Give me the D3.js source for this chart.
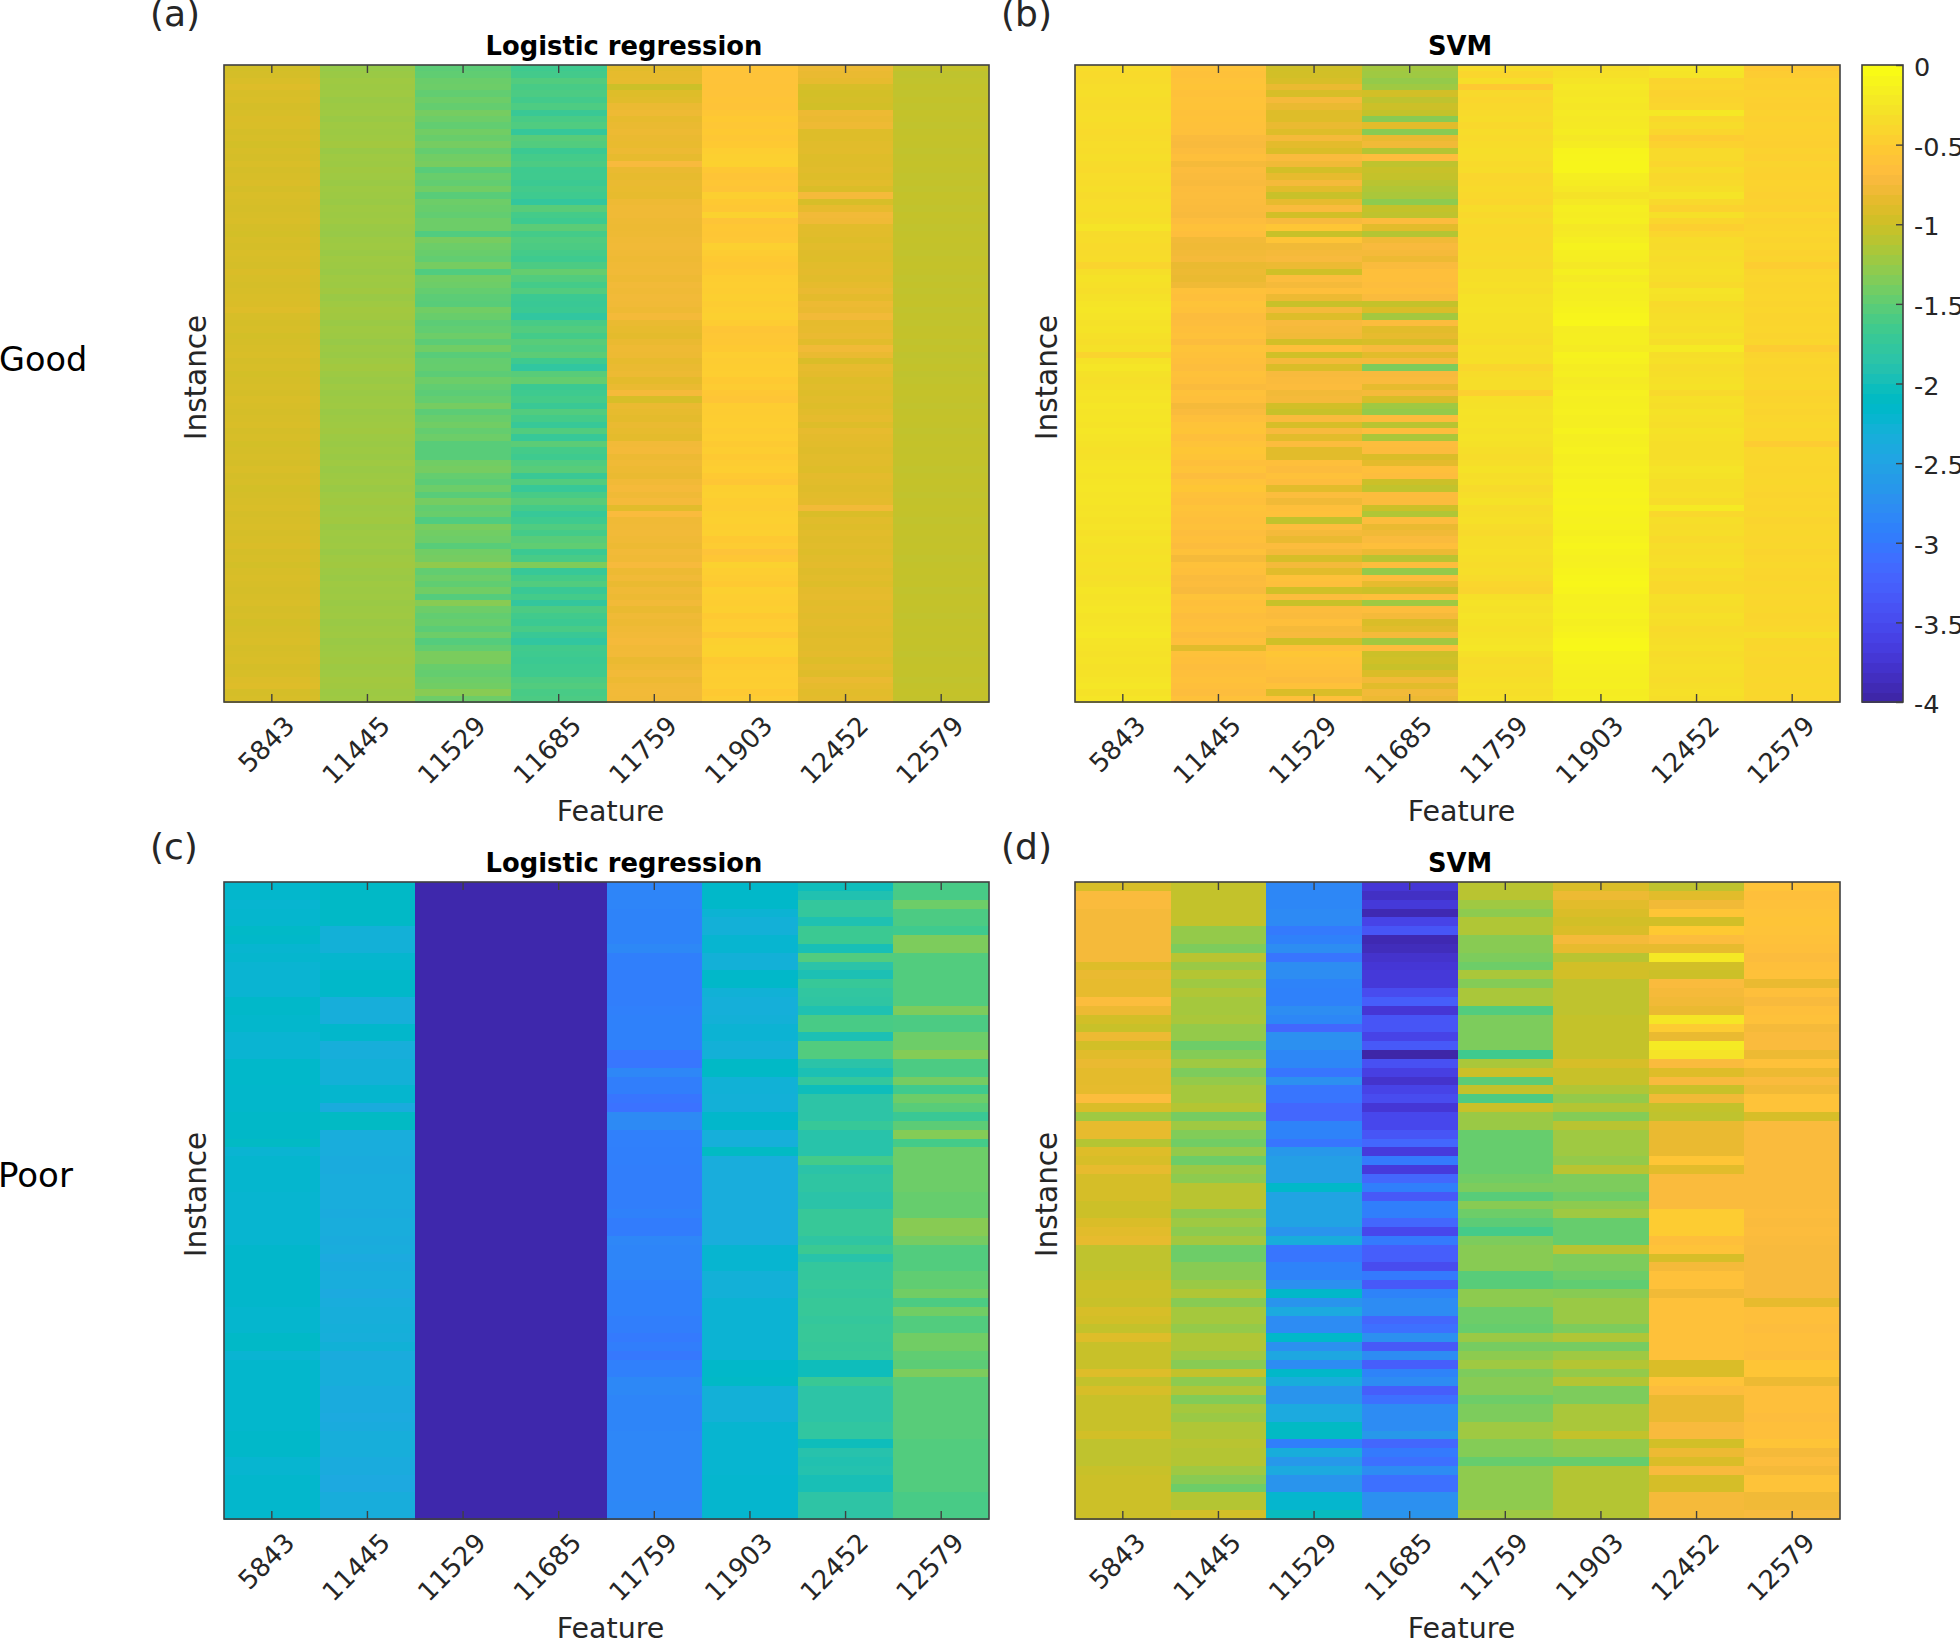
<!DOCTYPE html>
<html><head><meta charset="utf-8">
<script src="https://cdn.jsdelivr.net/npm/d3@7"></script>
<style>html,body{margin:0;padding:0;background:#fff;overflow:hidden}svg{display:block}text{font-family:"DejaVu Sans",sans-serif;fill:#262626}</style>
</head><body><svg id="c" width="1960" height="1639"></svg>
<script>
const features=["5843","11445","11529","11685","11759","11903","12452","12579"];
const colorTicks=[0,-0.5,-1,-1.5,-2,-2.5,-3,-3.5,-4];
const parula=[[.2422,.1504,.6603],[.2504,.165,.7076],[.2578,.1818,.7511],[.2647,.1978,.7952],[.2706,.2147,.8364],[.2751,.2342,.871],[.2783,.2559,.8991],[.2803,.2782,.9221],[.2813,.3006,.9414],[.281,.3228,.9579],[.2795,.3447,.9717],[.276,.3667,.9829],[.2699,.3892,.9906],[.2602,.4123,.9952],[.244,.4358,.9988],[.2206,.4603,.9973],[.1963,.4847,.9892],[.1834,.5074,.9798],[.1786,.5289,.9682],[.1764,.5499,.952],[.1687,.5703,.9359],[.154,.5902,.9218],[.146,.6091,.9079],[.138,.6276,.8973],[.1248,.6459,.8883],[.1113,.6635,.8763],[.0952,.6798,.8598],[.0689,.6948,.8394],[.0297,.7082,.8163],[.0036,.7203,.7917],[.0067,.7312,.766],[.0433,.7411,.7394],[.0964,.75,.712],[.1408,.7584,.6842],[.1717,.767,.6554],[.1938,.7758,.6251],[.2161,.7843,.5923],[.247,.7918,.5567],[.2906,.7973,.5188],[.3406,.8008,.4789],[.3909,.8029,.4354],[.4456,.8024,.3909],[.5044,.7993,.348],[.5616,.7942,.3045],[.6174,.7876,.2612],[.672,.7793,.2227],[.7242,.7698,.191],[.7738,.7598,.1646],[.8203,.7498,.1535],[.8634,.7406,.1596],[.9035,.733,.1774],[.9393,.7288,.21],[.9728,.7298,.2394],[.9956,.7434,.2371],[.997,.7659,.2199],[.9952,.7861,.199],[.9892,.8135,.1885],[.9786,.8386,.1766],[.9676,.8639,.1643],[.961,.889,.1537],[.9597,.9135,.1423],[.9628,.9373,.1265],[.9691,.9606,.1064],[.9769,.9839,.0805]];

// (a) Good, logistic regression
const goodLr1=[-.94,-.93,-.91,-.88,-.92,-.91,-.93,-.92,-.9,-.91,-.93,-.92,-.94,-.92,-.93,-.91,-.93,-.92,-.9,-.93,-.91,-.92,-.93,-.92,-.91,-.93,-.94,-.92,-.93,-.91,-.92,-.93,-.9,-.92,-.93,-.92,-.91,-.9,-.88,-.92,-.93,-.92,-.94,-.93,-.92,-.91,-.93,-.92,-.94,-.93,-.92,-.93,-.91,-.92,-.93,-.92,-.91,-.93,-.92,-.94,-.93,-.92,-.93,-.91,-.93,-.92,-.94,-.93,-.92,-.91,-.93,-.92,-.91,-.93,-.92,-.9,-.93,-.92,-.94,-.92,-.91,-.92,-.93,-.92,-.91,-.93,-.92,-.94,-.93,-.92,-.91,-.93,-.92,-.91,-.93,-.92,-.89,-.88,-.93,-.92];
const goodLr2=[-1.24,-1.22,-1.2,-1.21,-1.2,-1.22,-1.21,-1.2,-1.22,-1.2,-1.21,-1.2,-1.18,-1.22,-1.2,-1.21,-1.19,-1.2,-1.22,-1.2,-1.21,-1.22,-1.2,-1.21,-1.2,-1.22,-1.23,-1.21,-1.2,-1.22,-1.2,-1.21,-1.22,-1.2,-1.21,-1.19,-1.22,-1.2,-1.18,-1.19,-1.22,-1.2,-1.21,-1.23,-1.21,-1.22,-1.2,-1.18,-1.21,-1.22,-1.2,-1.22,-1.21,-1.2,-1.22,-1.21,-1.2,-1.19,-1.21,-1.22,-1.21,-1.22,-1.2,-1.22,-1.21,-1.2,-1.22,-1.2,-1.19,-1.21,-1.2,-1.19,-1.22,-1.2,-1.21,-1.2,-1.22,-1.2,-1.19,-1.21,-1.22,-1.2,-1.21,-1.2,-1.22,-1.21,-1.2,-1.22,-1.21,-1.2,-1.22,-1.21,-1.2,-1.19,-1.21,-1.2,-1.18,-1.19,-1.21,-1.2];
const goodLr3=[-1.5,-1.48,-1.43,-1.42,-1.47,-1.42,-1.46,-1.38,-1.42,-1.47,-1.4,-1.44,-1.38,-1.46,-1.4,-1.37,-1.52,-1.44,-1.47,-1.4,-1.52,-1.42,-1.44,-1.47,-1.42,-1.42,-1.56,-1.37,-1.42,-1.44,-1.47,-1.38,-1.56,-1.4,-1.42,-1.46,-1.5,-1.52,-1.4,-1.44,-1.5,-1.47,-1.42,-1.5,-1.4,-1.52,-1.46,-1.45,-1.5,-1.42,-1.47,-1.5,-1.46,-1.38,-1.5,-1.44,-1.4,-1.46,-1.42,-1.52,-1.52,-1.52,-1.4,-1.38,-1.46,-1.5,-1.42,-1.52,-1.38,-1.47,-1.44,-1.56,-1.36,-1.4,-1.42,-1.52,-1.4,-1.38,-1.26,-1.47,-1.42,-1.48,-1.4,-1.54,-1.3,-1.42,-1.47,-1.44,-1.5,-1.42,-1.54,-1.47,-1.36,-1.36,-1.44,-1.46,-1.42,-1.4,-1.3,-1.42];
const goodLr4=[-1.66,-1.63,-1.55,-1.6,-1.58,-1.63,-1.57,-1.7,-1.6,-1.56,-1.74,-1.52,-1.55,-1.68,-1.62,-1.58,-1.66,-1.65,-1.68,-1.63,-1.66,-1.76,-1.52,-1.62,-1.66,-1.5,-1.62,-1.56,-1.58,-1.62,-1.66,-1.58,-1.46,-1.55,-1.62,-1.55,-1.68,-1.7,-1.68,-1.78,-1.6,-1.55,-1.62,-1.52,-1.56,-1.5,-1.66,-1.78,-1.52,-1.46,-1.68,-1.66,-1.62,-1.7,-1.55,-1.62,-1.72,-1.55,-1.72,-1.5,-1.62,-1.66,-1.56,-1.52,-1.7,-1.55,-1.72,-1.6,-1.52,-1.62,-1.72,-1.66,-1.56,-1.62,-1.52,-1.48,-1.68,-1.6,-1.34,-1.72,-1.62,-1.55,-1.7,-1.62,-1.76,-1.58,-1.64,-1.68,-1.6,-1.7,-1.78,-1.64,-1.66,-1.68,-1.66,-1.65,-1.58,-1.55,-1.6,-1.58];
const goodLr5=[-.85,-.83,-.82,-.98,-.88,-.86,-.79,-.77,-.82,-.8,-.78,-.8,-.81,-.78,-.82,-.7,-.8,-.82,-.8,-.81,-.82,-.77,-.76,-.76,-.77,-.78,-.77,-.76,-.75,-.76,-.77,-.76,-.75,-.77,-.74,-.76,-.74,-.75,-.77,-.73,-.8,-.82,-.84,-.8,-.77,-.78,-.82,-.8,-.78,-.84,-.8,-.72,-.92,-.8,-.82,-.84,-.8,-.82,-.84,-.74,-.73,-.78,-.76,-.78,-.8,-.75,-.72,-.76,-.72,-.85,-.68,-.76,-.75,-.74,-.76,-.78,-.74,-.76,-.71,-.78,-.75,-.8,-.76,-.78,-.74,-.8,-.76,-.78,-.76,-.74,-.72,-.75,-.74,-.8,-.77,-.74,-.78,-.75,-.74,-.75];
const goodLr6=[-.56,-.58,-.58,-.57,-.58,-.56,-.57,-.54,-.5,-.53,-.5,-.52,-.5,-.46,-.44,-.43,-.52,-.56,-.54,-.56,-.45,-.5,-.52,-.42,-.56,-.52,-.54,-.53,-.44,-.48,-.5,-.52,-.5,-.47,-.46,-.47,-.45,-.48,-.46,-.44,-.48,-.55,-.53,-.52,-.5,-.46,-.48,-.47,-.46,-.5,-.48,-.52,-.55,-.47,-.48,-.47,-.46,-.48,-.46,-.49,-.47,-.5,-.48,-.46,-.5,-.54,-.45,-.44,-.47,-.48,-.45,-.44,-.46,-.44,-.5,-.48,-.58,-.54,-.42,-.46,-.48,-.5,-.44,-.46,-.47,-.45,-.5,-.47,-.46,-.52,-.44,-.42,-.43,-.5,-.48,-.46,-.47,-.46,-.5,-.48];
const goodLr7=[-.78,-.8,-.82,-.92,-.94,-.93,-.95,-.78,-.8,-.77,-.88,-.88,-.86,-.85,-.88,-.87,-.86,-.88,-.85,-.9,-.72,-.92,-.82,-.74,-.76,-.85,-.86,-.88,-.85,-.87,-.88,-.85,-.84,-.86,-.83,-.8,-.84,-.78,-.8,-.74,-.83,-.82,-.8,-.85,-.75,-.8,-.9,-.82,-.84,-.88,-.86,-.88,-.86,-.88,-.85,-.83,-.88,-.82,-.84,-.85,-.87,-.85,-.86,-.88,-.84,-.85,-.87,-.85,-.84,-.74,-.9,-.86,-.88,-.85,-.87,-.86,-.88,-.86,-.84,-.87,-.85,-.88,-.84,-.83,-.85,-.84,-.86,-.84,-.86,-.87,-.85,-.86,-.84,-.88,-.84,-.87,-.8,-.83,-.85,-.84];
const goodLr8=[-1.02,-1.05,-1.04,-1.03,-1.04,-1.03,-1.04,-1.02,-1.03,-1.04,-1.03,-1.02,-1.03,-1.04,-1.03,-1.02,-1.03,-1.04,-1.03,-1.04,-1.02,-1.03,-1.04,-1.02,-1.03,-1.04,-1.03,-1.02,-1.03,-1.04,-1.03,-1.02,-1.03,-1.04,-1.03,-1.04,-1.03,-1.02,-1.04,-1.03,-1.04,-1.03,-1.02,-1.04,-1.03,-1.05,-1.04,-1.03,-1.05,-1.04,-1.03,-1.02,-1.03,-1.04,-1.03,-1.02,-1.03,-1.04,-1.03,-1.02,-1.03,-1.02,-1.03,-1.04,-1.03,-1.02,-1.03,-1.04,-1.03,-1.02,-1.03,-1.04,-1.03,-1.02,-1.03,-1.02,-1.03,-1.04,-1.03,-1.02,-1.03,-1.02,-1.04,-1.03,-1.02,-1.03,-1.04,-1.03,-1.02,-1.03,-1.02,-1.03,-1.04,-1.03,-1.02,-1.03,-1.04,-1.03,-1.02,-1.03];

// (b) Good, SVM
const goodSvm1=[-.32,-.34,-.33,-.31,-.3,-.32,-.33,-.31,-.3,-.32,-.34,-.33,-.31,-.32,-.3,-.33,-.34,-.31,-.32,-.3,-.33,-.31,-.3,-.32,-.3,-.24,-.33,-.32,-.34,-.33,-.32,-.4,-.3,-.26,-.28,-.3,-.27,-.24,-.22,-.24,-.27,-.25,-.28,-.3,-.27,-.4,-.26,-.22,-.27,-.29,-.27,-.24,-.25,-.22,-.24,-.23,-.25,-.22,-.24,-.26,-.28,-.27,-.24,-.23,-.25,-.23,-.22,-.24,-.23,-.25,-.24,-.26,-.24,-.28,-.25,-.27,-.28,-.26,-.28,-.27,-.29,-.27,-.23,-.25,-.24,-.22,-.25,-.24,-.22,-.2,-.24,-.25,-.27,-.25,-.27,-.26,-.24,-.22,-.26,-.23];
const goodSvm2=[-.58,-.6,-.58,-.56,-.6,-.58,-.57,-.6,-.59,-.6,-.61,-.68,-.7,-.66,-.62,-.72,-.66,-.68,-.7,-.66,-.65,-.67,-.68,-.7,-.64,-.6,-.63,-.74,-.76,-.74,-.72,-.8,-.78,-.8,-.76,-.6,-.62,-.58,-.6,-.66,-.64,-.62,-.6,-.66,-.58,-.6,-.62,-.64,-.6,-.62,-.68,-.6,-.62,-.72,-.68,-.62,-.58,-.56,-.62,-.58,-.54,-.56,-.62,-.58,-.64,-.58,-.54,-.6,-.62,-.58,-.6,-.62,-.6,-.64,-.62,-.66,-.6,-.72,-.6,-.62,-.68,-.66,-.7,-.58,-.62,-.6,-.64,-.62,-.6,-.66,-.62,-.86,-.6,-.62,-.64,-.62,-.6,-.62,-.64,-.6];
const goodSvm3=[-.96,-.95,-.92,-.8,-.92,-.72,-.8,-.88,-.88,-.8,-.88,-.72,-.84,-.9,-.68,-.75,-.94,-.82,-.72,-.85,-1.0,-.82,-.68,-.95,-.7,-.54,-1.0,-.56,-.75,-.72,-.7,-.78,-.96,-.65,-.72,-.62,-.78,-1.0,-.72,-.88,-.7,-.72,-.74,-.94,-.62,-.96,-.72,-.9,-.7,-.68,-.66,-.74,-.72,-.95,-1.0,-.68,-.92,-.7,-.85,-.66,-.85,-.85,-.62,-.66,-.6,-.64,-.85,-.65,-.75,-.62,-.6,-1.04,-.64,-.72,-.8,-.66,-.72,-.92,-.72,-.85,-.6,-.62,-.96,-.65,-1.0,-.66,-.68,-.62,-.72,-.7,-.96,-.62,-.54,-.58,-.6,-.62,-.66,-.6,-.9,-.62];
const goodSvm4=[-1.18,-1.2,-1.25,-1.2,-.95,-1.05,-.98,-1.02,-1.3,-.85,-1.3,-.8,-.75,-1.1,-.64,-1.05,-1.0,-1.02,-1.08,-1.12,-1.15,-1.28,-1.02,-1.05,-.66,-.85,-1.1,-.75,-.7,-.72,-.78,-.68,-.62,-.62,-.64,-.62,-.68,-1.02,-.9,-1.18,-.66,-.85,-.82,-.92,-.7,-.85,-.72,-1.35,-.7,-.68,-.82,-.72,-.92,-1.2,-1.25,-.66,-1.08,-.64,-1.15,-.64,-.66,-.9,-.84,-.62,-.64,-.98,-1.04,-.66,-.67,-.98,-1.12,-.65,-.8,-.75,-.68,-.62,-.78,-1.08,-.64,-1.25,-.64,-.82,-.98,-.62,-1.2,-.64,-.72,-.9,-.85,-.72,-1.18,-.64,-.98,-.96,-1.0,-.9,-.74,-.85,-.74,-.78];
const goodSvm5=[-.32,-.38,-.3,-.5,-.35,-.38,-.36,-.34,-.32,-.36,-.32,-.34,-.32,-.3,-.31,-.34,-.32,-.38,-.36,-.34,-.36,-.38,-.32,-.36,-.33,-.36,-.36,-.35,-.36,-.34,-.33,-.35,-.3,-.3,-.28,-.3,-.26,-.26,-.25,-.27,-.28,-.28,-.3,-.32,-.28,-.29,-.28,-.38,-.32,-.3,-.3,-.44,-.28,-.27,-.25,-.26,-.25,-.27,-.25,-.27,-.3,-.32,-.3,-.26,-.3,-.28,-.33,-.3,-.26,-.32,-.3,-.28,-.32,-.34,-.3,-.3,-.28,-.3,-.32,-.3,-.33,-.38,-.4,-.28,-.25,-.27,-.24,-.26,-.28,-.26,-.24,-.22,-.28,-.32,-.3,-.32,-.3,-.28,-.3,-.28];
const goodSvm6=[-.3,-.28,-.24,-.2,-.22,-.2,-.22,-.18,-.2,-.19,-.16,-.2,-.16,-.08,-.07,-.06,-.06,-.14,-.16,-.2,-.26,-.2,-.14,-.16,-.14,-.2,-.18,-.14,-.1,-.14,-.15,-.2,-.13,-.18,-.13,-.15,-.14,-.12,-.09,-.07,-.05,-.15,-.14,-.14,-.17,-.1,-.12,-.16,-.14,-.18,-.16,-.12,-.14,-.13,-.12,-.14,-.14,-.1,-.14,-.13,-.11,-.14,-.13,-.11,-.13,-.1,-.09,-.08,-.1,-.08,-.09,-.11,-.09,-.13,-.1,-.07,-.1,-.12,-.11,-.08,-.06,-.05,-.07,-.12,-.11,-.12,-.1,-.13,-.11,-.08,-.05,-.04,-.1,-.1,-.12,-.13,-.14,-.13,-.16,-.15];
const goodSvm7=[-.22,-.24,-.4,-.38,-.42,-.4,-.38,-.2,-.36,-.32,-.38,-.48,-.42,-.34,-.34,-.38,-.32,-.36,-.34,-.3,-.24,-.35,-.42,-.28,-.38,-.45,-.38,-.32,-.33,-.3,-.32,-.3,-.28,-.3,-.34,-.24,-.26,-.34,-.32,-.3,-.28,-.3,-.26,-.3,-.18,-.3,-.28,-.32,-.3,-.28,-.26,-.35,-.28,-.3,-.26,-.28,-.3,-.26,-.28,-.3,-.3,-.3,-.28,-.24,-.26,-.3,-.3,-.28,-.32,-.18,-.36,-.3,-.32,-.3,-.34,-.3,-.32,-.3,-.28,-.34,-.32,-.36,-.36,-.28,-.3,-.32,-.28,-.3,-.34,-.32,-.3,-.28,-.32,-.3,-.28,-.3,-.32,-.3,-.28,-.3];
const goodSvm8=[-.5,-.48,-.44,-.45,-.42,-.44,-.45,-.42,-.44,-.42,-.43,-.44,-.45,-.42,-.44,-.4,-.42,-.43,-.41,-.42,-.44,-.42,-.44,-.38,-.42,-.4,-.38,-.4,-.38,-.42,-.4,-.47,-.4,-.38,-.4,-.39,-.38,-.4,-.38,-.4,-.39,-.38,-.4,-.38,-.48,-.4,-.38,-.4,-.39,-.38,-.37,-.42,-.4,-.38,-.4,-.38,-.36,-.38,-.38,-.48,-.38,-.37,-.38,-.39,-.38,-.37,-.38,-.4,-.38,-.39,-.37,-.4,-.38,-.37,-.38,-.37,-.4,-.38,-.36,-.38,-.39,-.37,-.38,-.36,-.38,-.37,-.39,-.38,-.36,-.3,-.37,-.38,-.36,-.38,-.37,-.38,-.37,-.38,-.37,-.38];

// (c) Poor, logistic regression
const poorLr1=[-2.18,-2.18,-2.22,-2.2,-2.2,-2.13,-2.15,-2.22,-2.2,-2.24,-2.24,-2.24,-2.24,-2.15,-2.15,-2.18,-2.18,-2.24,-2.24,-2.24,-2.16,-2.16,-2.16,-2.17,-2.17,-2.17,-2.14,-2.14,-2.14,-2.1,-2.24,-2.2,-2.2,-2.2,-2.2,-2.22,-2.22,-2.22,-2.22,-2.22,-2.22,-2.17,-2.17,-2.17,-2.17,-2.17,-2.17,-2.17,-2.2,-2.2,-2.2,-2.13,-2.13,-2.24,-2.18,-2.18,-2.18,-2.18,-2.18,-2.18,-2.18,-2.18,-2.15,-2.15,-2.15,-2.22,-2.22,-2.18,-2.18,-2.18,-2.18,-2.18];
const poorLr2=[-2.12,-2.12,-2.12,-2.12,-2.12,-2.3,-2.3,-2.3,-2.2,-2.2,-2.15,-2.15,-2.15,-2.34,-2.34,-2.34,-2.17,-2.17,-2.34,-2.34,-2.3,-2.3,-2.3,-2.2,-2.2,-2.38,-2.1,-2.1,-2.36,-2.36,-2.36,-2.38,-2.38,-2.36,-2.36,-2.36,-2.36,-2.38,-2.36,-2.36,-2.38,-2.36,-2.4,-2.38,-2.36,-2.36,-2.4,-2.36,-2.34,-2.34,-2.32,-2.34,-2.28,-2.38,-2.34,-2.34,-2.34,-2.38,-2.38,-2.38,-2.4,-2.38,-2.34,-2.34,-2.34,-2.38,-2.38,-2.42,-2.42,-2.35,-2.35,-2.35];
const poorLr3=[-3.98,-3.98,-3.98,-3.98,-3.98,-3.98,-3.98,-3.98,-3.98,-3.98,-3.98,-3.98,-3.98,-3.98,-3.98,-3.98,-3.98,-3.98,-3.98,-3.98,-3.98,-3.98,-3.98,-3.98,-3.98,-3.98,-3.98,-3.98,-3.98,-3.98,-3.98,-3.98,-3.98,-3.98,-3.98,-3.98,-3.98,-3.98,-3.98,-3.98,-3.98,-3.98,-3.98,-3.98,-3.98,-3.98,-3.98,-3.98,-3.98,-3.98,-3.98,-3.98,-3.98,-3.98,-3.98,-3.98,-3.98,-3.98,-3.98,-3.98,-3.98,-3.98,-3.98,-3.98,-3.98,-3.98,-3.98,-3.98,-3.98,-3.98,-3.98,-3.98];
const poorLr4=[-3.98,-3.98,-3.98,-3.98,-3.98,-3.98,-3.98,-3.98,-3.98,-3.98,-3.98,-3.98,-3.98,-3.98,-3.98,-3.98,-3.98,-3.98,-3.98,-3.98,-3.98,-3.98,-3.98,-3.98,-3.98,-3.98,-3.98,-3.98,-3.98,-3.98,-3.98,-3.98,-3.98,-3.98,-3.98,-3.98,-3.98,-3.98,-3.98,-3.98,-3.98,-3.98,-3.98,-3.98,-3.98,-3.98,-3.98,-3.98,-3.98,-3.98,-3.98,-3.98,-3.98,-3.98,-3.98,-3.98,-3.98,-3.98,-3.98,-3.98,-3.98,-3.98,-3.98,-3.98,-3.98,-3.98,-3.98,-3.98,-3.98,-3.98,-3.98,-3.98];
const poorLr5=[-2.88,-2.88,-2.88,-2.9,-2.9,-2.9,-2.9,-2.84,-2.95,-2.95,-2.96,-2.96,-2.96,-2.96,-2.94,-2.92,-2.92,-2.92,-2.92,-3.04,-3.04,-2.86,-2.96,-2.96,-3.05,-3.08,-2.82,-2.82,-2.94,-2.94,-2.95,-2.95,-2.96,-2.96,-2.96,-2.96,-2.96,-2.92,-2.98,-2.98,-2.86,-2.88,-2.88,-2.88,-2.88,-2.92,-2.92,-2.92,-2.92,-2.96,-2.96,-3,-2.96,-3.02,-2.94,-2.94,-2.84,-2.84,-2.88,-2.88,-2.88,-2.88,-2.86,-2.86,-2.86,-2.86,-2.86,-2.86,-2.86,-2.86,-2.84,-2.84];
const poorLr6=[-2.15,-2.15,-2.15,-2.25,-2.3,-2.3,-2.22,-2.22,-2.3,-2.3,-2.15,-2.15,-2.28,-2.32,-2.32,-2.3,-2.25,-2.25,-2.3,-2.3,-2.12,-2.12,-2.28,-2.28,-2.3,-2.3,-2.17,-2.17,-2.33,-2.33,-2.1,-2.36,-2.36,-2.36,-2.36,-2.36,-2.36,-2.36,-2.36,-2.36,-2.36,-2.22,-2.22,-2.22,-2.3,-2.3,-2.3,-2.25,-2.25,-2.25,-2.25,-2.25,-2.25,-2.25,-2.15,-2.15,-2.12,-2.3,-2.3,-2.3,-2.3,-2.22,-2.22,-2.22,-2.22,-2.22,-2.22,-2.2,-2.2,-2.2,-2.2,-2.2];
const poorLr7=[-2.02,-1.92,-1.75,-1.75,-1.93,-1.68,-1.68,-1.97,-1.55,-1.85,-1.95,-1.72,-1.78,-1.8,-1.93,-1.6,-1.6,-1.95,-1.55,-1.55,-1.85,-1.95,-1.75,-2.02,-1.83,-1.83,-1.83,-1.72,-1.87,-1.87,-1.87,-1.62,-1.85,-1.8,-1.8,-1.85,-1.85,-1.72,-1.72,-1.72,-1.8,-1.68,-1.87,-1.75,-1.75,-1.72,-1.75,-1.72,-1.72,-1.75,-1.72,-1.72,-1.74,-1.72,-2.02,-2.02,-1.7,-1.83,-1.83,-1.83,-1.83,-1.78,-1.78,-2.02,-1.88,-1.92,-1.9,-1.97,-1.97,-1.82,-1.82,-1.82];
const poorLr8=[-1.6,-1.6,-1.42,-1.58,-1.58,-1.65,-1.35,-1.35,-1.55,-1.55,-1.55,-1.55,-1.55,-1.55,-1.35,-1.58,-1.58,-1.42,-1.42,-1.32,-1.58,-1.58,-1.38,-1.65,-1.42,-1.52,-1.7,-1.5,-1.32,-1.62,-1.42,-1.42,-1.42,-1.42,-1.42,-1.45,-1.45,-1.45,-1.3,-1.3,-1.38,-1.55,-1.55,-1.55,-1.48,-1.48,-1.4,-1.58,-1.4,-1.55,-1.55,-1.4,-1.4,-1.48,-1.5,-1.35,-1.52,-1.52,-1.52,-1.52,-1.52,-1.52,-1.52,-1.55,-1.55,-1.55,-1.55,-1.55,-1.55,-1.6,-1.6,-1.6];

// (d) Poor, SVM
const poorSvm1=[-.92,-.68,-.68,-.72,-.72,-.72,-.72,-.72,-.72,-.88,-.8,-.82,-.82,-.65,-.78,-.95,-1.0,-.78,-.95,-.86,-.8,-.84,-.84,-.83,-.65,-.9,-1.2,-.82,-.82,-1.1,-.88,-.92,-.82,-.93,-.93,-.93,-.98,-.98,-.9,-.85,-.82,-1.05,-1.05,-1.05,-1.03,-.98,-.98,-1.0,-.92,-.95,-1.03,-.88,-1.0,-1.0,-1.0,-.88,-1.03,-.92,-1.0,-1.0,-1.0,-1.0,-.95,-1.05,-1.05,-1.05,-1.0,-.98,-.98,-.98,-.98,-.98];
const poorSvm2=[-1.03,-1.03,-1.03,-1.03,-1.03,-1.25,-1.25,-1.35,-1.08,-1.22,-1.1,-1.2,-1.12,-1.17,-1.17,-1.15,-1.25,-1.25,-1.42,-1.32,-1.2,-1.35,-1.25,-1.17,-1.17,-1.1,-1.38,-1.2,-1.33,-1.4,-1.25,-1.42,-1.22,-1.28,-1.08,-1.08,-1.08,-1.28,-1.2,-1.28,-1.18,-1.42,-1.42,-1.3,-1.3,-1.22,-1.12,-1.3,-1.17,-1.17,-1.25,-1.12,-1.12,-1.2,-1.3,-1.03,-1.28,-1.12,-1.33,-1.17,-1.22,-1.12,-1.12,-1.08,-1.1,-1.1,-1.2,-1.3,-1.42,-1.1,-1.1,-.95];
const poorSvm3=[-2.85,-2.85,-2.85,-2.82,-2.82,-3,-2.92,-2.78,-3.05,-2.78,-2.78,-2.9,-2.92,-2.92,-2.78,-2.85,-3.2,-2.75,-2.75,-2.85,-2.85,-3.05,-2.75,-3.05,-3.05,-3.2,-3.2,-2.9,-2.9,-3.05,-2.65,-2.55,-2.55,-2.55,-2.15,-2.5,-2.5,-2.5,-2.5,-2.7,-2.35,-3.05,-3.05,-2.9,-2.9,-2.75,-2.15,-2.7,-2.4,-2.8,-2.8,-2.15,-2.75,-2.45,-2.8,-2.15,-2.35,-2.7,-2.7,-2.4,-2.4,-2.1,-2.1,-2.95,-2.35,-2.65,-2.4,-2.7,-2.7,-2.2,-2.2,-2.05];
const poorSvm4=[-3.75,-3.85,-3.72,-3.95,-3.6,-3.4,-3.95,-3.9,-3.8,-3.75,-3.72,-3.72,-3.5,-3.3,-3.75,-3.4,-3.4,-3.6,-3.35,-4,-3.45,-3.65,-3.8,-3.6,-3.5,-3.75,-3.55,-3.55,-3.4,-3.2,-3.7,-3,-3.7,-3.2,-2.95,-3.35,-2.95,-2.95,-3.2,-3.55,-3,-3.3,-3.3,-3.5,-3,-3.35,-2.9,-2.8,-2.8,-3.2,-3.1,-2.75,-3.35,-2.8,-3.3,-2.9,-2.8,-3.3,-3.1,-2.8,-2.8,-2.8,-2.65,-3.2,-3,-3.1,-2.8,-3.1,-3.1,-2.75,-2.75,-2.7];
const poorSvm5=[-1.08,-1.08,-1.2,-1.28,-1.12,-1.12,-1.3,-1.3,-1.35,-1.42,-1.15,-1.32,-1.15,-1.15,-1.55,-1.35,-1.35,-1.35,-1.35,-1.65,-1.15,-.98,-1.5,-1.03,-1.58,-1,-1.22,-1.22,-1.45,-1.45,-1.45,-1.45,-1.45,-1.4,-1.35,-1.52,-1.3,-1.42,-1.5,-1.62,-1.35,-1.3,-1.3,-1.3,-1.52,-1.52,-1.28,-1.28,-1.42,-1.42,-1.45,-1.22,-1.38,-1.28,-1.2,-1.35,-1.3,-1.3,-1.42,-1.35,-1.35,-1.2,-1.2,-1.32,-1.32,-1.45,-1.27,-1.27,-1.27,-1.27,-1.27,-1.2];
const poorSvm6=[-.9,-.78,-.85,-.9,-.95,-.9,-.72,-.82,-1.08,-.95,-.95,-1.05,-1.05,-1.05,-1.05,-1.02,-1.02,-1.02,-1.02,-1.02,-.92,-1,-1,-1.12,-1.25,-1.1,-1.32,-1.08,-1.2,-1.2,-1.2,-1.25,-1.08,-1.35,-1.35,-1.42,-1.28,-1.2,-1.45,-1.45,-1.45,-1.08,-1.35,-1.35,-1.42,-1.48,-1.3,-1.22,-1.22,-1.22,-1.35,-1.12,-1.38,-1.2,-1.1,-1.25,-1.1,-1.35,-1.35,-1.15,-1.15,-1.15,-1.03,-1.25,-1.25,-1.45,-1.1,-1.1,-1.1,-1.1,-1.1,-1.1];
const poorSvm7=[-1.05,-.85,-.75,-.55,-.95,-.5,-.65,-.82,-.2,-.95,-.98,-.68,-.72,-.75,-.8,-.22,-.48,-.8,-.18,-.25,-.68,-.88,-.7,-1,-.75,-1.03,-1.05,-.8,-.8,-.8,-.8,-.55,-.85,-.68,-.68,-.68,-.68,-.48,-.48,-.48,-.62,-.58,-.92,-.72,-.6,-.6,-.75,-.6,-.6,-.6,-.6,-.6,-.6,-.6,-.9,-.9,-.58,-.65,-.8,-.8,-.8,-.7,-.7,-.95,-.78,-.9,-.7,-.93,-.93,-.72,-.72,-.72];
const poorSvm8=[-.58,-.62,-.6,-.58,-.56,-.58,-.6,-.62,-.66,-.62,-.6,-.8,-.62,-.7,-.62,-.6,-.72,-.68,-.68,-.78,-.6,-.78,-.68,-.75,-.58,-.58,-.92,-.68,-.68,-.68,-.68,-.68,-.68,-.68,-.68,-.68,-.68,-.66,-.68,-.66,-.68,-.7,-.7,-.7,-.7,-.7,-.7,-.82,-.62,-.62,-.64,-.62,-.62,-.64,-.55,-.55,-.78,-.62,-.62,-.62,-.64,-.62,-.62,-.56,-.72,-.65,-.72,-.58,-.58,-.75,-.75,-.7];

const parts=[
 {letter:"(a)",title:"Logistic regression",cols:[goodLr1,goodLr2,goodLr3,goodLr4,goodLr5,goodLr6,goodLr7,goodLr8],x0:224,y0:65,tcx:624,lx:150,ly:26},
 {letter:"(b)",title:"SVM",cols:[goodSvm1,goodSvm2,goodSvm3,goodSvm4,goodSvm5,goodSvm6,goodSvm7,goodSvm8],x0:1075,y0:65,tcx:1460,lx:1001,ly:26},
 {letter:"(c)",title:"Logistic regression",cols:[poorLr1,poorLr2,poorLr3,poorLr4,poorLr5,poorLr6,poorLr7,poorLr8],x0:224,y0:882,tcx:624,lx:150,ly:859},
 {letter:"(d)",title:"SVM",cols:[poorSvm1,poorSvm2,poorSvm3,poorSvm4,poorSvm5,poorSvm6,poorSvm7,poorSvm8],x0:1075,y0:882,tcx:1460,lx:1001,ly:859}
];
const W=765,H=637,ink="#404040";
const svg=d3.select("#c");
const color=d3.scaleLinear().domain(parula.map((_,i)=>-4+4*i/(parula.length-1))).range(parula.map(p=>d3.rgb(p[0]*255,p[1]*255,p[2]*255))).clamp(true);

parts.forEach(p=>{
  const g=svg.append("g").attr("transform",`translate(${p.x0},${p.y0})`);
  const x=d3.scaleBand().domain(features).range([0,W]);
  const n=p.cols[0].length;
  const y=d3.scaleBand().domain(d3.range(n)).range([0,H]);
  p.cols.forEach((col,ci)=>{
    g.append("g").selectAll("rect").data(col).join("rect")
     .attr("shape-rendering","crispEdges")
     .attr("x",x(features[ci])).attr("width",x.bandwidth())
     .attr("y",(d,i)=>y(i)).attr("height",y.bandwidth()+.5)
     .attr("fill",d=>color(d));
  });
  g.append("rect").attr("width",W).attr("height",H).attr("fill","none").attr("stroke",ink).attr("stroke-width",1.6);
  const ax=d3.axisBottom(x).tickSize(0).tickPadding(0);
  const ag=g.append("g").attr("transform",`translate(0,${H})`).call(ax);
  ag.select(".domain").remove();
  ag.selectAll("text").attr("font-size",26).attr("font-family",'"DejaVu Sans"').attr("fill","#262626")
    .attr("text-anchor","end").attr("dy",0).attr("y",0).attr("dominant-baseline","middle")
    .attr("transform","translate(19,20) rotate(-45)");
  ag.selectAll(".tick").append("line").attr("y1",0).attr("y2",-8).attr("stroke",ink).attr("stroke-width",1.4);
  ag.selectAll(".tick").append("line").attr("y1",-H).attr("y2",-H+8).attr("stroke",ink).attr("stroke-width",1.4);
  g.append("text").text("Feature").attr("x",W/2+4).attr("y",H+119).attr("text-anchor","middle").attr("font-size",28.5);
  g.append("text").text("Instance").attr("transform",`translate(-18,${H/2-6}) rotate(-90)`).attr("text-anchor","middle").attr("font-size",29.5);
  svg.append("text").text(p.title).attr("x",p.tcx).attr("y",p.y0-10).attr("text-anchor","middle").attr("font-size",25.8).attr("font-weight","bold").style("fill","#000");
  svg.append("text").text(p.letter).attr("x",p.lx).attr("y",p.ly).attr("font-size",36);
});

svg.append("text").text("Good").attr("x",-1).attr("y",371).attr("font-size",33.5).style("fill","#000");
svg.append("text").text("Poor").attr("x",-2).attr("y",1187).attr("font-size",34).style("fill","#000");

// colour bar
const cbX=1862,cbW=41,cbY=65;
const cbScale=d3.scaleLinear().domain([0,-4]).range([cbY,cbY+H]);
const cbSteps=parula.map((_,i)=>i);
const cb=svg.append("g");
cb.selectAll("rect").data(cbSteps).join("rect").attr("shape-rendering","crispEdges")
  .attr("x",cbX).attr("width",cbW)
  .attr("height",H/parula.length+.6)
  .attr("y",i=>cbScale(-4*(parula.length-1-i)/parula.length))
  .attr("fill",i=>color(-4+4*i/(parula.length-1)));
cb.append("rect").attr("x",cbX).attr("y",cbY).attr("width",cbW).attr("height",H).attr("fill","none").attr("stroke",ink).attr("stroke-width",1.6);
const cbAxis=d3.axisRight(cbScale).tickValues(colorTicks).tickFormat(d=>String(d)).tickSize(0).tickPadding(0);
const cg=cb.append("g").attr("transform",`translate(${cbX+cbW},0)`).call(cbAxis);
cg.select(".domain").remove();
cg.selectAll("text").attr("x",11).attr("dy","0.42em").attr("font-size",25.5).attr("font-family",'"DejaVu Sans"').attr("fill","#262626");
cg.selectAll(".tick").append("line").attr("x1",0).attr("x2",-7).attr("stroke",ink).attr("stroke-width",1.4);
</script></body></html>
